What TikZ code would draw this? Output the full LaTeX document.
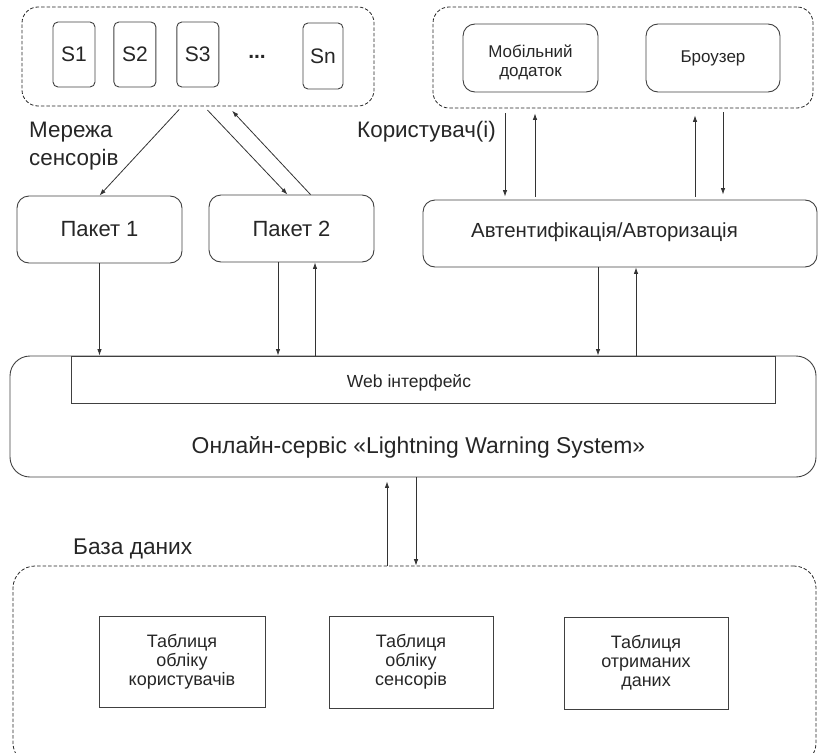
\documentclass[tikz,border=0pt]{standalone}
\usepackage{fontspec}
\setmainfont{Liberation Sans}
\usetikzlibrary{arrows.meta,positioning}
\newcommand{\fsz}[2]{\fontsize{#1}{#2}\selectfont}
\tikzset{
    %Define standard arrow tip
    >={Latex[length=6.5pt,width=4.5pt]},
    %Define style for boxes
    sensor/.style={
           rectangle,
           rounded corners=5pt,
           draw=black!75, line width=0.9pt,
           minimum width=42pt,
           minimum height=65pt,
           inner sep=0pt,
           font=\fsz{21}{25},
           text=black!85},
    packet/.style={
           rectangle,
           rounded corners=12pt,
           draw=black!75, line width=0.9pt,
           minimum width=165pt,
           minimum height=67pt,
           inner sep=0pt,
           font=\fsz{22}{26},
           text=black!85},
    client/.style={
           packet,
           minimum width=135pt,
           minimum height=68pt,
           align=center,
           font=\fsz{17}{19}},
    dbtable/.style={
           rectangle,
           draw=black!75, line width=0.9pt,
           minimum width=165pt,
           minimum height=92pt,
           inner sep=0pt,
           align=center,
           font=\fsz{18}{19},
           text=black!85},
    group/.style={
           rectangle,
           rounded corners=16pt,
           draw=black!85, line width=0.8pt,
           dash pattern=on 3.5pt off 2pt,
           inner sep=0pt},
    caption/.style={
           inner sep=0pt,
           font=\fsz{22.4}{28},
           text=black!85},
    % Define arrow style
    pil/.style={
           ->,
           line width=0.8pt,
           draw=black!80}
}
\begin{document}
\begin{tikzpicture}[x=1pt,y=-1pt]
\clip (0,0) rectangle (818,752);
% sensors
\node[group, minimum width=352pt, minimum height=99pt] (sensors) at (198,56.5) {};
\node[sensor] (s1) at (74,54.5) {S1};
\node[sensor, right=18pt of s1] (s2) {S2};
\node[sensor, right=20pt of s2] (s3) {S3};
\node[caption, font=\fsz{21}{25}\bfseries] (dots) at (257,57) {...};
\node[sensor, minimum width=40pt, minimum height=66pt] (sn) at (323,56) {Sn};
\node[caption, anchor=west, align=left] (netlbl) at (29,146) {Мережа\\сенсорів};

% users
\node[group, minimum width=380pt, minimum height=101pt] (users) at (623,57.5) {};
\node[client] (mob) at (530.5,58) {\rule{0pt}{22pt}Мобільний\\додаток};
\node[client, minimum width=134pt] (brw) at (713,58) {Броузер};
\node[caption, anchor=base east] (userlbl) at (496,137) {Користувач(і)};

% packets and auth
\node[packet] (pak1) at (99.5,229.5) {Пакет 1};
\node[packet] (pak2) at (291.5,228.5) {Пакет 2};
\node[packet, minimum width=394pt] (auth) at (620,233.5) {};
\node[caption, font=\fsz{20.4}{24}] (authtitle) at (604.5,232) {Автентифікація/Авторизація};

% service
\node[packet, minimum width=806pt, minimum height=121pt, rounded corners=20pt] (svc) at (413,416.5) {};
\node[dbtable, minimum width=704pt, minimum height=47pt] (web) at (423,379.5) {};
\node[caption, font=\fsz{17.5}{21}] (webtitle) at (409,382.5) {Web інтерфейс};
\node[caption, font=\fsz{22.9}{27}] (svctitle) at (418.5,447) {Онлайн-сервіс «Lightning Warning System»};

% database
\node[caption, font=\fsz{22.7}{27}, anchor=base west] (dblbl) at (73,554) {База даних};
\node[group, minimum width=803pt, minimum height=199pt, rounded corners=22pt] (db) at (414.5,665.5) {};
\node[dbtable, minimum width=166pt, minimum height=91pt] (t1) at (182,661.5) {Таблиця\\обліку\\користувачів};
\node[dbtable, minimum width=164pt] (t2) at (411,662) {Таблиця\\обліку\\сенсорів};
\node[dbtable, minimum width=164pt] (t3) at (646,663) {Таблиця\\отриманих\\даних};

% connectors
\coordinate (n1) at ([xshift=-16pt]sensors.south);
\coordinate (n2) at ([xshift=6pt]sensors.south);
\coordinate (n3) at ([xshift=30pt]sensors.south);
\draw[pil, shorten <=4pt] (n1) -- (pak1.north);
\draw[pil, shorten <=5pt] (n2) -- ([xshift=-4pt]pak2.north);
\draw[pil, shorten >=6pt] ([xshift=19pt]pak2.north) -- (n3);

\coordinate (p1) at (pak1.south);
\coordinate (p2) at ([xshift=-13.5pt]pak2.south);
\coordinate (p3) at ([xshift=23.5pt]pak2.south);
\draw[pil] (p1) -- (p1 |- web.north);
\draw[pil] (p2) -- (p2 |- web.north);
\draw[pil] (p3 |- web.north) -- (p3);

\coordinate (u1) at ([xshift=-118pt]users.south);
\coordinate (u2) at ([xshift=-88pt]users.south);
\coordinate (u3) at ([xshift=72pt]users.south);
\coordinate (u4) at ([xshift=100pt]users.south);
\draw[pil, shorten <=5pt, shorten >=3pt] (u1) -- (u1 |- auth.north);
\draw[pil, shorten <=3pt, shorten >=5pt] (u2 |- auth.north) -- (u2);
\draw[pil, shorten <=3pt, shorten >=7pt] (u3 |- auth.north) -- (u3);
\draw[pil, shorten <=4pt, shorten >=5pt] (u4) -- (u4 |- auth.north);

\coordinate (w1) at ([xshift=-22pt]auth.south);
\coordinate (w2) at ([xshift=16pt]auth.south);
\draw[pil] (w1) -- (w1 |- web.north);
\draw[pil] (w2 |- web.north) -- (w2);

\coordinate (d1) at ([xshift=-26pt]svc.south);
\coordinate (d2) at ([xshift=3pt]svc.south);
\draw[pil, shorten >=4pt] (d1 |- db.north) -- (d1);
\draw[pil] (d2) -- (d2 |- db.north);
\end{tikzpicture}
\end{document}
